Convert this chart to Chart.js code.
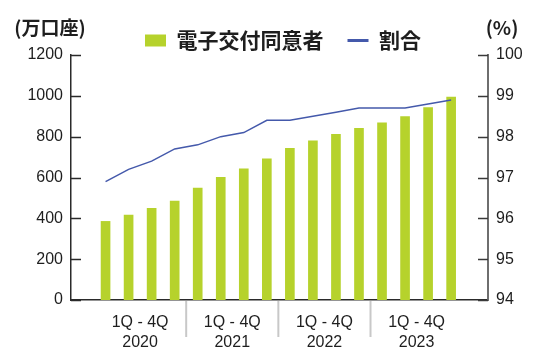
<!DOCTYPE html>
<html>
<head>
<meta charset="utf-8">
<script src="https://cdn.jsdelivr.net/npm/chart.js@4.4.0/dist/chart.umd.min.js"></script>
<style>
  html, body { margin: 0; padding: 0; background: #fff; }
  .chart-container { position: relative; width: 554px; height: 353px; }
</style>
</head>
<body>
<div class="chart-container"><canvas id="consentChart" width="554" height="353"></canvas></div>
<script>
// Quarterly data, 2020 1Q .. 2023 4Q
const quarterYears = [2020, 2020, 2020, 2020, 2021, 2021, 2021, 2021, 2022, 2022, 2022, 2022, 2023, 2023, 2023, 2023];
const consentAccounts = [385, 416, 449, 485, 548, 601, 643, 692, 743, 780, 811, 841, 868, 898, 943, 994]; // 万口座
const consentRatio = [96.9, 97.2, 97.4, 97.7, 97.8, 98.0, 98.1, 98.4, 98.4, 98.5, 98.6, 98.7, 98.7, 98.7, 98.8, 98.9]; // %
const years = [2020, 2021, 2022, 2023];
const yearLabels = [['1Q - 4Q', '2020'], ['1Q - 4Q', '2021'], ['1Q - 4Q', '2022'], ['1Q - 4Q', '2023']];

const BAR_COLOR = '#b6d22c';
const LINE_COLOR = '#4459ab';
const TEXT_COLOR = '#1e1e1e';
const NARROW = "'Liberation Sans', Arial, sans-serif";
const CJK = "'Noto Sans CJK JP', 'Noto Sans', sans-serif";

// center of each year's group of quarters, and the boundaries between groups
const groupCenters = years.map(y => {
  const idx = quarterYears.map((qy, i) => qy === y ? i : -1).filter(i => i >= 0);
  return idx.reduce((a, b) => a + b, 0) / idx.length;
});
const groupBounds = [];
for (let i = 1; i < quarterYears.length; i++) {
  if (quarterYears[i] !== quarterYears[i - 1]) groupBounds.push(i - 0.5);
}

// inward tick marks, year separators and the two unit labels
const axisDecor = {
  id: 'axisDecor',
  afterDraw(chart) {
    const { ctx, chartArea, scales } = chart;
    ctx.save();
    ctx.lineWidth = 1.5;
    ctx.strokeStyle = '#2a2a2a';
    scales.y.ticks.forEach(t => {
      const y = Math.round(scales.y.getPixelForValue(t.value)) + 0.5;
      ctx.beginPath();
      ctx.moveTo(chartArea.left, y);
      ctx.lineTo(chartArea.left + 10, y);
      ctx.stroke();
    });
    ctx.strokeStyle = '#3a3a3a';
    scales.y1.ticks.forEach(t => {
      const y = Math.round(scales.y1.getPixelForValue(t.value)) + 0.5;
      ctx.beginPath();
      ctx.moveTo(chartArea.right - 10, y);
      ctx.lineTo(chartArea.right, y);
      ctx.stroke();
    });

    ctx.strokeStyle = '#c8c8c8';
    ctx.lineWidth = 2;
    groupBounds.forEach(v => {
      const x = scales.x.getPixelForValue(v);
      ctx.beginPath();
      ctx.moveTo(x, chartArea.bottom + 1);
      ctx.lineTo(x, chartArea.bottom + 37);
      ctx.stroke();
    });

    ctx.fillStyle = TEXT_COLOR;
    ctx.font = 'bold 19px ' + CJK;
    ctx.textAlign = 'center';
    ctx.textBaseline = 'middle';
    ctx.fillText('(万口座)', 50, 28);
    ctx.fillText('(%)', 502, 28);
    ctx.restore();
  }
};

new Chart(document.getElementById('consentChart'), {
  type: 'bar',
  data: {
    datasets: [
      {
        type: 'bar',
        label: '電子交付同意者',
        data: consentAccounts.map((v, i) => ({ x: i, y: v })),
        backgroundColor: BAR_COLOR,
        barThickness: 9,
        yAxisID: 'y',
        order: 2
      },
      {
        type: 'line',
        label: '割合',
        data: consentRatio.map((v, i) => ({ x: i, y: v })),
        borderColor: LINE_COLOR,
        borderWidth: 1.5,
        pointRadius: 0,
        tension: 0,
        yAxisID: 'y1',
        order: 1
      }
    ]
  },
  options: {
    responsive: false,
    animation: false,
    devicePixelRatio: 1,
    // extra left padding nudges the centred legend right; y axis width compensates
    layout: { padding: { top: 6, bottom: 0, left: 12, right: 0 } },
    plugins: {
      tooltip: { enabled: false },
      legend: {
        position: 'top',
        maxHeight: 49,
        labels: {
          usePointStyle: true,
          pointStyleWidth: 21,
          boxHeight: 12,
          padding: 24,
          color: TEXT_COLOR,
          font: { family: CJK, size: 21, weight: 'bold' },
          generateLabels: () => [
            { text: '電子交付同意者', pointStyle: 'rect', fillStyle: BAR_COLOR, strokeStyle: BAR_COLOR, lineWidth: 0, fontColor: TEXT_COLOR },
            { text: '割合', pointStyle: 'line', fillStyle: LINE_COLOR, strokeStyle: LINE_COLOR, lineWidth: 3, fontColor: TEXT_COLOR }
          ]
        }
      }
    },
    scales: {
      x: {
        type: 'linear',
        min: -1.5,
        max: 16.6,
        offset: false,
        bounds: 'data',
        grid: { display: false, drawTicks: false },
        border: { display: true, color: '#2a2a2a', width: 1.5 },
        afterBuildTicks: scale => { scale.ticks = groupCenters.map(v => ({ value: v })); },
        afterFit: scale => { scale.height = 53; },
        ticks: {
          autoSkip: false,
          maxRotation: 0,
          padding: 13,
          color: TEXT_COLOR,
          font: { family: NARROW, size: 16, lineHeight: 1.25 },
          callback: (value, index) => yearLabels[index]
        }
      },
      y: {
        position: 'left',
        min: 0,
        max: 1200,
        grid: { display: false, drawTicks: false },
        border: { display: true, color: '#2a2a2a', width: 1.5 },
        afterFit: scale => { scale.width = 59; },
        ticks: {
          stepSize: 200,
          padding: 8,
          color: TEXT_COLOR,
          font: { family: NARROW, size: 16 },
          callback: v => String(v)
        }
      },
      y1: {
        position: 'right',
        min: 94,
        max: 100,
        grid: { display: false, drawTicks: false },
        border: { display: true, color: '#6e6e6e', width: 2 },
        afterFit: scale => { scale.width = 66; },
        ticks: {
          stepSize: 1,
          padding: 8,
          color: TEXT_COLOR,
          font: { family: NARROW, size: 16 },
          callback: v => String(v)
        }
      }
    }
  },
  plugins: [axisDecor]
});
</script>
</body>
</html>
